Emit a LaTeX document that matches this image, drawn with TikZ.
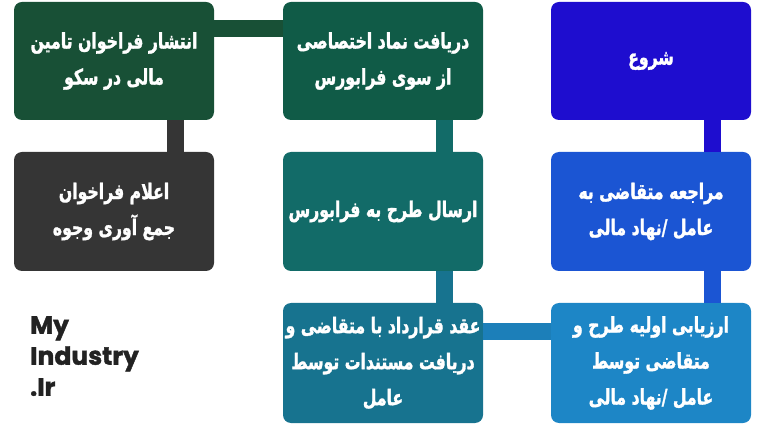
\documentclass[tikz,border=0pt]{standalone}
\usepackage{fontspec}
\TeXXeTstate=1
\newfontfamily\fafont[Script=Arabic,FakeStretch=0.73,FakeBold=1.4]{DejaVu Sans}
\newfontfamily\logofont[FakeBold=1.6]{Poppins}
\definecolor{cStart}{HTML}{1E0DCF}
\definecolor{cRef}{HTML}{1B55D3}
\definecolor{cEval}{HTML}{1D86C6}
\definecolor{cEvalLink}{HTML}{1C7FB9}
\definecolor{cContract}{HTML}{17738F}
\definecolor{cSend}{HTML}{126B68}
\definecolor{cSymbol}{HTML}{105B47}
\definecolor{cPublish}{HTML}{185036}
\definecolor{cAnnounce}{HTML}{353535}
\definecolor{cLogo}{HTML}{222222}
\tikzset{
  stepbox/.style={rounded corners=8pt, minimum width=200pt,
    align=center, text=white, inner sep=0pt,
    font=\fafont\bfseries\fontsize{21.5}{36}\selectfont},
  link/.style={line width=17pt},
}
\newcommand{\rl}[1]{\beginR #1\endR}
\begin{document}
\begin{tikzpicture}[x=1pt,y=-1pt]
\useasboundingbox (0,0) rectangle (768,435);
% boxes
\node[stepbox, fill=cStart, minimum height=118pt] (start) at (651,61) {\rl{شروع}};
\node[stepbox, fill=cRef, minimum height=119pt] (ref) at (651,211.5) {\rl{مراجعه متقاضی به}\\\rl{عامل /نهاد مالی}};
\node[stepbox, fill=cEval, minimum height=120pt] (eval) at (651,363) {\rl{ارزیابی اولیه طرح و}\\\rl{متقاضی توسط}\\\rl{عامل /نهاد مالی}};
\node[stepbox, fill=cContract, minimum height=120pt] (contract) at (383,363) {\rl{عقد قرارداد با متقاضی و}\\\rl{دریافت مستندات توسط}\\\rl{عامل}};
\node[stepbox, fill=cSend, minimum height=119pt] (send) at (383,211.5) {\rl{ارسال طرح به فرابورس}};
\node[stepbox, fill=cSymbol, minimum height=118pt] (symbol) at (383,61) {\rl{دریافت نماد اختصاصی}\\\rl{از سوی فرابورس}};
\node[stepbox, fill=cPublish, minimum height=118pt] (publish) at (114,61) {\rl{انتشار فراخوان تامین}\\\rl{مالی در سکو}};
\node[stepbox, fill=cAnnounce, minimum height=119pt] (announce) at (114,211.5) {\rl{اعلام فراخوان}\\\rl{جمع آوری وجوه}};
% connectors
\draw[link, cStart] ([xshift=61pt]start.south) -- ([xshift=61pt]ref.north);
\draw[link, cRef] ([xshift=61pt]ref.south) -- ([xshift=61pt]eval.north);
\draw[link, cEvalLink] ([yshift=31pt]eval.west) -- ([yshift=31pt]contract.east);
\draw[link, cContract] ([xshift=61pt]contract.north) -- ([xshift=61pt]send.south);
\draw[link, cSend] ([xshift=61pt]send.north) -- ([xshift=61pt]symbol.south);
\draw[link, cPublish] ([yshift=32pt]symbol.west) -- ([yshift=32pt]publish.east);
\draw[link, cAnnounce] ([xshift=61pt]publish.south) -- ([xshift=61pt]announce.north);
% logo
\node[anchor=north west, align=left, inner sep=0pt, text=cLogo,
  font=\logofont\bfseries\fontsize{25}{31}\selectfont] (logo) at (30,316) {My\\Industry\\.Ir};
\end{tikzpicture}
\end{document}
